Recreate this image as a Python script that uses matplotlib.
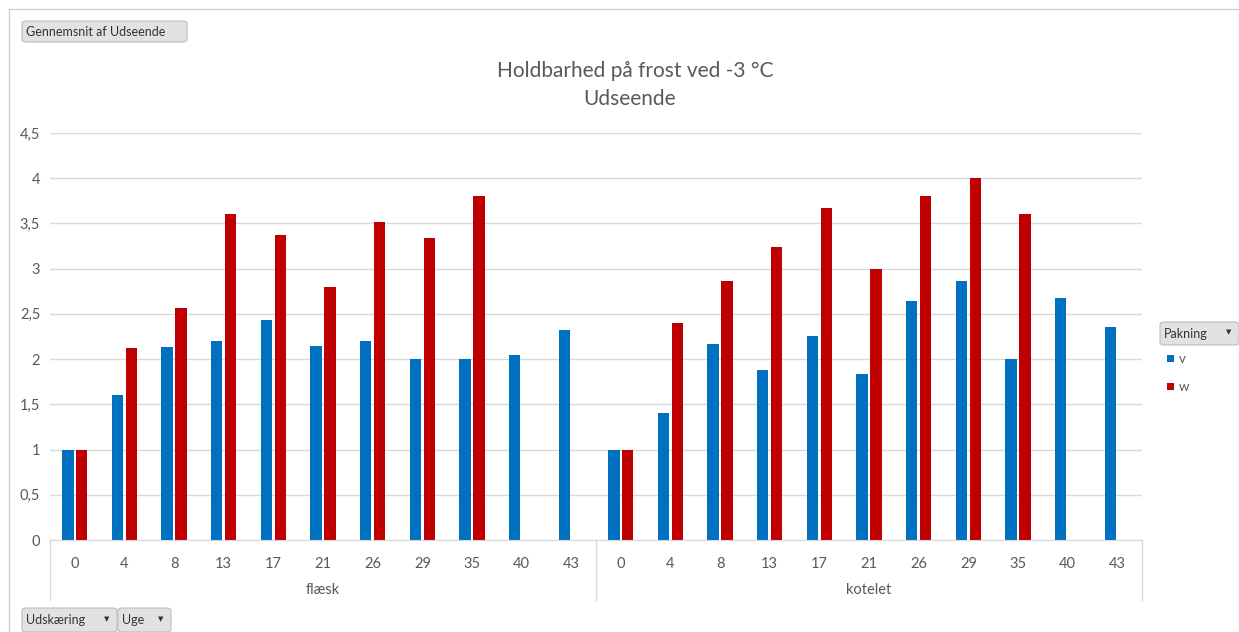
import matplotlib
matplotlib.use("Agg")
import matplotlib.pyplot as plt
import matplotlib.transforms as mtransforms
from matplotlib.patches import FancyBboxPatch, Rectangle
from matplotlib.lines import Line2D
import numpy as np

plt.rcParams['font.family'] = ['Lato', 'DejaVu Sans']

groups = ["flæsk", "kotelet"]
weeks = ["0", "4", "8", "13", "17", "21", "26", "29", "35", "40", "43"]
flaesk_v = [1.0, 1.6, 2.13, 2.2, 2.43, 2.15, 2.2, 2.0, 2.0, 2.04, 2.32]
flaesk_w = [1.0, 2.12, 2.56, 3.6, 3.37, 2.8, 3.52, 3.34, 3.8, None, None]
kotelet_v = [1.0, 1.4, 2.17, 1.88, 2.26, 1.84, 2.64, 2.86, 2.0, 2.68, 2.36]
kotelet_w = [1.0, 2.4, 2.86, 3.24, 3.67, 3.0, 3.8, 4.0, 3.6, None, None]
yticks = [0, 0.5, 1, 1.5, 2, 2.5, 3, 3.5, 4, 4.5]
title_lines = ["Holdbarhed på frost ved -3 °C", "Udseende"]

W, H = 1239, 632
fig = plt.figure(figsize=(W / 100, H / 100), dpi=100)
fig.patch.set_facecolor("white")

def fx(x):
    return x / W

def fy(y):
    return 1 - y / H

ax = fig.add_axes([fx(50), fy(540), fx(1142) - fx(50), fy(133) - fy(540)])

v_all = flaesk_v + kotelet_v
w_all = flaesk_w + kotelet_w
n = len(v_all)
x = np.arange(n)
bw = 0.23
off = 0.14
blue = "#0070C0"
red = "#C00000"
ax.bar(x - off, v_all, width=bw, color=blue, zorder=3)
wx = [xi + off for xi, val in zip(x, w_all) if val is not None]
wv = [val for val in w_all if val is not None]
ax.bar(wx, wv, width=bw, color=red, zorder=3)

ax.set_xlim(-0.5, n - 0.5)
ax.set_ylim(0, 4.5)
ax.set_yticks(yticks)
ax.set_yticklabels([("%g" % t).replace(".", ",") for t in yticks])
ax.yaxis.grid(True, color="#D9D9D9", linewidth=1, zorder=0)
for s in ["left", "right", "top"]:
    ax.spines[s].set_visible(False)
ax.spines["bottom"].set_color("#D9D9D9")
ax.spines["bottom"].set_zorder(4)
ax.tick_params(axis="y", length=0, pad=7, labelsize=10.5, labelcolor="#595959")
ax.set_xticks(x)
ax.set_xticklabels(weeks * len(groups))
ax.tick_params(axis="x", length=0, pad=12, labelsize=10.5, labelcolor="#595959")

trans = mtransforms.blended_transform_factory(ax.transData, ax.transAxes)
bottom_ax = (fy(600) - fy(540)) / (fy(133) - fy(540))
for xs in [-0.5, len(weeks) - 0.5, n - 0.5]:
    ax.add_line(Line2D([xs, xs], [0, bottom_ax], transform=trans, color="#D9D9D9",
                       linewidth=1, clip_on=False))
group_y = (fy(590) - fy(540)) / (fy(133) - fy(540))
for gi, g in enumerate(groups):
    cx = gi * len(weeks) + (len(weeks) - 1) / 2
    ax.text(cx, group_y, g, transform=trans, ha="center", va="center",
            fontsize=10.5, color="#595959")

fig.text(fx(635), fy(71), title_lines[0], ha="center", va="center", fontsize=15, color="#595959")
fig.text(fx(630), fy(99), title_lines[1], ha="center", va="center", fontsize=15, color="#595959")

# outer frame lines
fig.add_artist(Line2D([fx(9), fx(1239)], [fy(9), fy(9)], color="#D0D0D0", linewidth=1))
fig.add_artist(Line2D([fx(9), fx(9)], [fy(9), fy(632)], color="#D0D0D0", linewidth=1))

def button(x0, y0, x1, y1, label, arrow=False):
    p = FancyBboxPatch((fx(x0), fy(y1)), fx(x1) - fx(x0), fy(y0) - fy(y1),
                       boxstyle="round,pad=0,rounding_size=0.004",
                       transform=fig.transFigure, facecolor="#E2E2E2",
                       edgecolor="#BDBDBD", linewidth=0.8)
    fig.add_artist(p)
    fig.text(fx(x0 + 4), fy((y0 + y1) / 2), label, ha="left", va="center",
             fontsize=9, color="#333333")
    if arrow:
        fig.text(fx(x1 - 10), fy((y0 + y1) / 2 - 1), "▼", ha="center", va="center",
                 fontsize=5, color="#333333", family="DejaVu Sans")

button(22, 21, 187, 42, "Gennemsnit af Udseende")
button(1160, 322, 1239, 345, "Pakning", arrow=True)
button(22, 608, 117, 632, "Udskæring", arrow=True)
button(118, 608, 171, 632, "Uge", arrow=True)

legend_items = [("v", blue, 358), ("w", red, 386)]
for lab, col, yy in legend_items:
    fig.add_artist(Rectangle((fx(1167), fy(yy + 4)), fx(7), fy(0) - fy(7),
                             transform=fig.transFigure, facecolor=col, edgecolor="none"))
    fig.text(fx(1179), fy(yy + 1), lab, ha="left", va="center", fontsize=9.5, color="#595959")

fig.savefig("out.png", dpi=100, facecolor="white")
